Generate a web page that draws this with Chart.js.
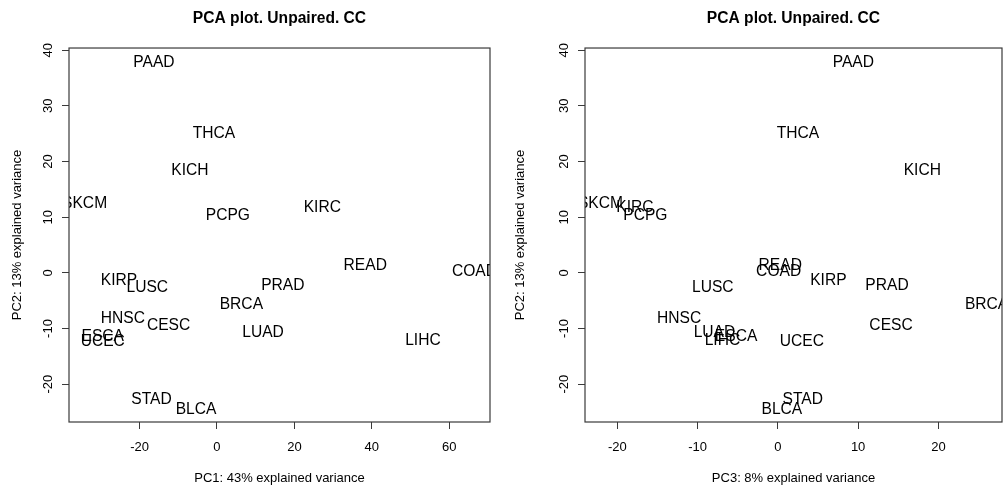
<!DOCTYPE html>
<html><head><meta charset="utf-8">
<script src="https://cdn.jsdelivr.net/npm/chart.js@4.4.1/dist/chart.umd.min.js"></script>
<style>
html,body{margin:0;padding:0;background:#fff;}
#wrap{position:relative;width:1007px;height:489px;overflow:hidden;}
canvas{position:absolute;top:0;}
</style></head><body>
<div id="wrap">
<canvas id="c1" width="503" height="489" style="left:0;width:503px;height:489px"></canvas>
<canvas id="c2" width="504" height="489" style="left:503px;width:504px;height:489px"></canvas>
</div>
<script>
// ---- data ----
const cancerTypes = ["PAAD","THCA","KICH","SKCM","PCPG","KIRC","READ","COAD","KIRP","LUSC",
                     "PRAD","BRCA","HNSC","CESC","LUAD","ESCA","UCEC","LIHC","STAD","BLCA"];
const pc1 = [-16.3, -0.8, -7.0, -34.2, 2.8, 27.2, 38.3, 66.5, -25.3, -18.0,
             17.0, 6.3, -24.3, -12.5, 11.9, -29.5, -29.5, 53.2, -16.9, -5.4];
const pc2 = [37.9, 25.3, 18.6, 12.7, 10.5, 11.9, 1.6, 0.5, -1.2, -2.5,
             -2.1, -5.4, -8.0, -9.3, -10.5, -11.2, -12.1, -11.9, -22.6, -24.3];
const pc3 = [9.4, 2.5, 18.0, -22.1, -16.5, -17.8, 0.3, 0.1, 6.3, -8.1,
             13.6, 26.0, -12.3, 14.1, -7.9, -5.2, 3.0, -6.9, 3.1, 0.5];
const pc1Ticks = [-20, 0, 20, 40, 60];
const pc2Ticks = [-20, -10, 0, 10, 20, 30, 40];
const pc3Ticks = [-20, -10, 0, 10, 20];
const plotTitle = "PCA plot. Unpaired. CC";
const pc1Label = "PC1: 43% explained variance";
const pc2Label = "PC2: 13% explained variance";
const pc3Label = "PC3: 8% explained variance";

const FAMILY = '"Liberation Sans", Arial, Helvetica, sans-serif';
Chart.defaults.font.family = FAMILY;
Chart.defaults.color = '#000';

// R-style axis range (4% extension)
function rRange(v){ const mn=Math.min(...v), mx=Math.max(...v), e=(mx-mn)*0.04; return [mn-e, mx+e]; }

const LABEL_SIZE = 15.6;
const labelPlugin = {
  id: 'rText',
  afterDatasetsDraw(chart){
    const {ctx, chartArea:a, scales:{x, y}} = chart;
    const ds = chart.data.datasets[0];
    ctx.save();
    ctx.beginPath();
    ctx.rect(a.left, a.top, a.right - a.left, a.bottom - a.top);
    ctx.clip();
    ctx.font = LABEL_SIZE + 'px ' + FAMILY;
    ctx.fillStyle = '#000';
    ctx.textAlign = 'center';
    ctx.textBaseline = 'alphabetic';
    const capHalf = LABEL_SIZE * 0.716 / 2;   // centre the capitals on the point, like R's text()
    ds.data.forEach((p, i) => {
      ctx.fillText(ds.names[i], x.getPixelForValue(p.x), y.getPixelForValue(p.y) + capHalf);
    });
    ctx.restore();
    ctx.save();
    ctx.strokeStyle = '#3a3a3a';
    ctx.lineWidth = 1.2;
    ctx.strokeRect(a.left, a.top, a.right - a.left, a.bottom - a.top);
    ctx.restore();
  }
};

function makeChart(id, xs, ys, xTicks, yTicks, xTitle, yTitle, yAxisWidth, padRight){
  const [xmin, xmax] = rRange(xs);
  const [ymin, ymax] = rRange(ys);
  return new Chart(document.getElementById(id), {
    type: 'scatter',
    data: { datasets: [{
      data: xs.map((v, i) => ({x: v, y: ys[i]})),
      names: cancerTypes,
      pointRadius: 0, pointHoverRadius: 0
    }]},
    options: {
      responsive: false, animation: false, devicePixelRatio: 1, events: [],
      layout: { padding: {left: 0, right: padRight, top: 0, bottom: 0} },
      plugins: {
        legend: {display: false}, tooltip: {enabled: false},
        title: { display: true, text: plotTitle, fullSize: false, color: '#000',
                 font: {size: 15.6, weight: 'bold', family: FAMILY},
                 padding: {top: 9.6, bottom: 19.7} }
      },
      scales: {
        x: {
          type: 'linear', position: 'bottom', min: xmin, max: xmax,
          afterBuildTicks: s => { s.ticks = xTicks.map(v => ({value: v})); },
          afterFit: s => { s.height = 67; },
          grid: {display: true, drawOnChartArea: false, drawTicks: true, tickLength: 7, color: '#3a3a3a', lineWidth: 1},
          border: {display: false},
          ticks: {color: '#000', font: {size: 13}, padding: 11, maxRotation: 0, minRotation: 0, autoSkip: false},
          title: {display: true, text: xTitle, color: '#000', font: {size: 13}, padding: {top: 0, bottom: 3.2}}
        },
        y: {
          type: 'linear', position: 'left', min: ymin, max: ymax,
          afterBuildTicks: s => { s.ticks = yTicks.map(v => ({value: v})); },
          afterFit: s => { s.width = yAxisWidth; },
          grid: {display: true, drawOnChartArea: false, drawTicks: true, tickLength: 7, color: '#3a3a3a', lineWidth: 1},
          border: {display: false},
          ticks: {color: '#000', font: {size: 13}, padding: 4, minRotation: 90, maxRotation: 90, crossAlign: 'center', autoSkip: false},
          title: {display: true, text: yTitle, color: '#000', font: {size: 13}, padding: {top: 9.2, bottom: 0}}
        }
      }
    },
    plugins: [labelPlugin]
  });
}

makeChart('c1', pc1, pc2, pc1Ticks, pc2Ticks, pc1Label, pc2Label, 69, 13);
makeChart('c2', pc3, pc2, pc3Ticks, pc2Ticks, pc3Label, pc2Label, 82, 5);
</script>
</body></html>
